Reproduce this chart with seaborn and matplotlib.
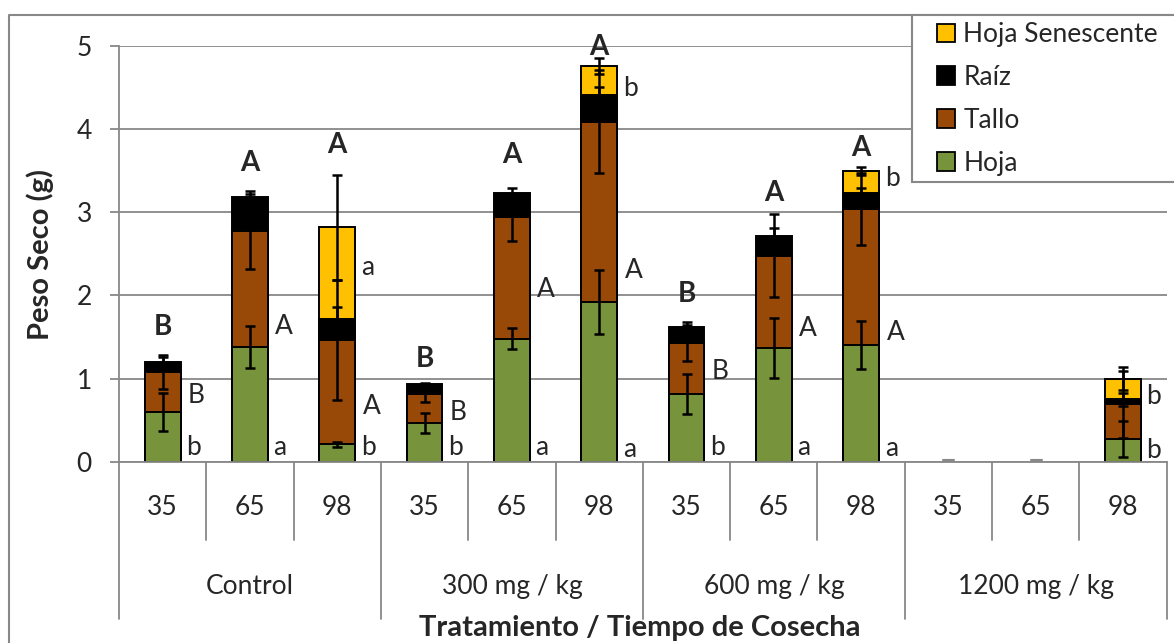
import numpy as np
import pandas as pd
import matplotlib
matplotlib.use("Agg")
import matplotlib.pyplot as plt
import matplotlib.transforms as mtransforms
from matplotlib.patches import Rectangle, Patch
from matplotlib.lines import Line2D
import seaborn as sns

# ---------------- data ----------------
groups = ["Control", "300 mg / kg", "600 mg / kg", "1200 mg / kg"]
days = ["35", "65", "98"]

hoja       = [0.60, 1.38, 0.21, 0.46, 1.48, 1.92, 0.81, 1.37, 1.40, 0.0, 0.0, 0.27]
tallo      = [0.48, 1.39, 1.25, 0.36, 1.46, 2.17, 0.62, 1.11, 1.64, 0.0, 0.0, 0.42]
raiz       = [0.12, 0.41, 0.26, 0.11, 0.29, 0.32, 0.19, 0.23, 0.19, 0.0, 0.0, 0.06]
senescente = [0.00, 0.00, 1.10, 0.00, 0.00, 0.35, 0.00, 0.00, 0.27, 0.0, 0.0, 0.25]

err_hoja  = [0.23, 0.25, 0.03, 0.12, 0.13, 0.38, 0.24, 0.36, 0.29, 0.0, 0.0, 0.215]
err_tallo = [0.20, 0.45, 0.72, 0.10, 0.28, 0.62, 0.22, 0.50, 0.43, 0.0, 0.0, 0.40]
err_raiz  = [0.06, 0.07, 0.14, 0.02, 0.06, 0.10, 0.06, 0.10, 0.06, 0.0, 0.0, 0.08]
err_sen   = [0.00, 0.00, 0.63, 0.00, 0.00, 0.10, 0.00, 0.00, 0.05, 0.0, 0.0, 0.135]

# significance letters
letters_total = ["B", "A", "A", "B", "A", "A", "B", "A", "A", "", "", ""]
letters_total_y = [1.62, 3.59, 3.81, 1.24, 3.69, 4.99, 2.02, 3.23, 3.77, 0, 0, 0]
letters_tallo = ["B", "A", "A", "B", "A", "A", "B", "A", "A", "", "", ""]
letters_tallo_y = [0.80, 1.63, 0.66, 0.59, 2.07, 2.30, 1.08, 1.60, 1.56, 0, 0, 0]
letters_hoja = ["b", "a", "b", "b", "a", "a", "b", "a", "a", "", "", "b"]
letters_hoja_y = [0.17, 0.17, 0.17, 0.17, 0.17, 0.15, 0.17, 0.17, 0.16, 0, 0, 0.14]
letters_sen = ["", "", "a", "", "", "b", "", "", "b", "", "", "b"]
letters_sen_y = [0, 0, 2.34, 0, 0, 4.49, 0, 0, 3.41, 0, 0, 0.78]

series_names = ["Hoja Senescente", "Raíz", "Tallo", "Hoja"]
colors = {"Hoja": "#77933C", "Tallo": "#984807", "Raíz": "#000000",
          "Hoja Senescente": "#FFC000"}

# ---------------- style ----------------
sns.set_style("white")
plt.rcParams["font.family"] = ["Lato", "DejaVu Sans"]
FS = 19
FS_TITLE = 21
GREY = "#888888"

slots = [f"{g}|{d}" for g in groups for d in days]
h = np.array(hoja); t = np.array(tallo); r = np.array(raiz); s = np.array(senescente)
c1 = h
c2 = h + t
c3 = c2 + r
c4 = c3 + s

def nz(vals, seg):
    v = np.array(vals, dtype=float)
    v[np.array(seg) <= 0] = np.nan
    return v

df = pd.DataFrame({
    "slot": slots,
    "c4": nz(c4, s),
    "c3": nz(c3, c3),
    "c2": nz(c2, c2),
    "c1": nz(c1, c1),
})

fig = plt.figure(figsize=(11.74, 6.43), dpi=100)
W, H = 1174, 643
x0, x1 = 119, 1166.7
y0, y1 = 461.7, 46
ax = fig.add_axes([x0 / W, 1 - y0 / H, (x1 - x0) / W, (y0 - y1) / H])

for col, name in [("c4", "Hoja Senescente"), ("c3", "Raíz"),
                  ("c2", "Tallo"), ("c1", "Hoja")]:
    sns.barplot(data=df, x="slot", y=col, order=slots, color=colors[name],
                saturation=1, width=0.41, edgecolor="black", linewidth=1.4,
                errorbar=None, ax=ax)

xs = np.arange(len(slots))
ekw = dict(fmt="none", ecolor="black", elinewidth=1.8, capsize=3.8,
           capthick=1.8, zorder=6)
mask_h = h > 0
ax.errorbar(xs[mask_h], c1[mask_h], yerr=np.array(err_hoja)[mask_h], **ekw)
ax.errorbar(xs[mask_h], c2[mask_h], yerr=np.array(err_tallo)[mask_h], **ekw)
ax.errorbar(xs[mask_h], c3[mask_h], yerr=np.array(err_raiz)[mask_h], **ekw)
mask_s = s > 0
ax.errorbar(xs[mask_s], c4[mask_s], yerr=np.array(err_sen)[mask_s], **ekw)
# empty slots: zero-length error bar caps, drawn just above the axis line
mask_0 = ~mask_h
eb0 = ax.errorbar(xs[mask_0], c1[mask_0] + 0.02, yerr=np.zeros(mask_0.sum()),
                  fmt="none", ecolor=GREY, elinewidth=1.5, capsize=4.5,
                  capthick=2.2, zorder=6)
for art in eb0.lines[1]:
    art.set_clip_on(False)

# letters
for i in range(len(slots)):
    if letters_total[i]:
        ax.text(i, letters_total_y[i], letters_total[i], ha="center",
                va="center", fontsize=FS + 1, fontweight="bold")
    if letters_tallo[i]:
        ax.text(i + 0.29, letters_tallo_y[i], letters_tallo[i], ha="left",
                va="center", fontsize=FS)
    if letters_hoja[i]:
        ax.text(i + 0.27, letters_hoja_y[i], letters_hoja[i], ha="left",
                va="center", fontsize=FS)
    if letters_sen[i]:
        ax.text(i + 0.27, letters_sen_y[i], letters_sen[i], ha="left",
                va="center", fontsize=FS)

ax.set_xlim(-0.5, len(slots) - 0.5)
ax.set_ylim(0, 5)
ax.set_yticks(range(6))
ax.yaxis.grid(True, color=GREY, lw=1.3)
ax.set_axisbelow(True)
ax.set_xticks([])
ax.set_xlabel("")
ax.set_ylabel("")
for sp in ["top", "right"]:
    ax.spines[sp].set_visible(False)
for sp in ["left", "bottom"]:
    ax.spines[sp].set_color(GREY)
    ax.spines[sp].set_linewidth(1.3)
ax.tick_params(axis="y", length=6.5, width=1.3, color=GREY, labelsize=FS,
               pad=13, left=True)

# multi-level category axis
trans = mtransforms.blended_transform_factory(ax.transData, ax.transAxes)
for k in range(len(slots) + 1):
    xb = k - 0.5
    if k % 3 == 0:
        ax.add_line(Line2D([xb, xb], [0, -0.378], transform=trans,
                           color=GREY, lw=1.3, clip_on=False))
    else:
        ax.add_line(Line2D([xb, xb], [0, -0.188], transform=trans,
                           color=GREY, lw=1.3, clip_on=False))
for i, sl in enumerate(slots):
    ax.text(i, -0.111, sl.split("|")[1], transform=trans, ha="center",
            va="center", fontsize=FS)
for gi, g in enumerate(groups):
    ax.text(gi * 3 + 1, -0.30, g, transform=trans, ha="center", va="center",
            fontsize=FS)

fig.text(640 / W, 1 - 628 / H, "Tratamiento / Tiempo de Cosecha",
         ha="center", va="center", fontsize=FS_TITLE, fontweight="bold")
fig.text(40 / W, 1 - 255 / H, "Peso Seco (g)", rotation=90, ha="center",
         va="center", fontsize=FS_TITLE, fontweight="bold")

# outer chart frame (left and top edges visible)
fig.add_artist(Line2D([9 / W, 9 / W, 1.01], [-0.01, 1 - 15 / H, 1 - 15 / H],
                      transform=fig.transFigure, color=GREY, lw=1.5))

# legend box
fig.add_artist(Rectangle((911.7 / W, 1 - 182 / H), (1180 - 911.7) / W,
                         (182 - 15) / H, transform=fig.transFigure,
                         facecolor="white", edgecolor=GREY, lw=1.5, zorder=3))
handles = [Patch(facecolor=colors[n], edgecolor="black", lw=1.3)
           for n in series_names]
fig.legend(handles, series_names, loc="upper left",
           bbox_to_anchor=(937 / W, 1 - 22 / H), frameon=False, fontsize=FS,
           handlelength=0.7, handleheight=0.7, handletextpad=0.3,
           labelspacing=0.68, borderpad=0, borderaxespad=0)

fig.savefig("out.png", dpi=100)
